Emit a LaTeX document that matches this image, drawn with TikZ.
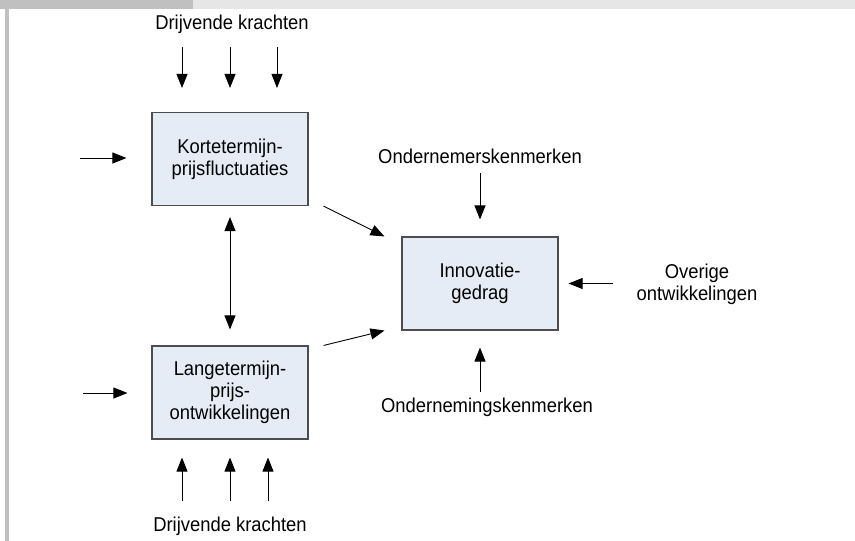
\documentclass[tikz,border=0pt]{standalone}
\usepackage{fontspec}
\setmainfont[FakeStretch=0.92]{Liberation Sans}
\usepackage{xcolor}
\definecolor{boxbg}{HTML}{E6ECF6}
\definecolor{boxbd}{HTML}{4D4D4D}
\definecolor{bardark}{HTML}{C0C0C0}
\definecolor{barlight}{HTML}{E6E6E6}
\usetikzlibrary{arrows.meta, positioning, calc}

\begin{document}
\begin{tikzpicture}[
        x=1pt, y=-1pt,
        every node/.style={font=\fontsize{20}{22}\selectfont},
        box/.style={
            rectangle,
            draw=boxbd,
            line width=1.1pt,
            fill=boxbg,
            minimum width=156pt,
            minimum height=93pt,
            align=center
        },
        lbl/.style={inner sep=0pt, align=center},
        arrow/.style={
            -{Triangle[length=14pt, width=11pt]},
            line width=0.9pt
        },
        dblarrow/.style={
            {Triangle[length=14pt, width=11pt]}-{Triangle[length=14pt, width=11pt]},
            line width=0.9pt
        }
    ]

    % Frame
    \useasboundingbox (0,0) rectangle (855,541);
    \fill[bardark] (0,0) rectangle (193,9);
    \fill[barlight] (193,0) rectangle (855,9);
    \fill[bardark] (5,0) rectangle (9,541);

    % Nodes
    \node[box] (kort) at (230,159) {Kortetermijn-\\prijsfluctuaties};
    \node[box] (lang) at (230,392.5) {Langetermijn-\\prijs-\\ontwikkelingen};
    \node[box] (innov) at (480,283.5) {Innovatie-\\gedrag};

    \node[lbl, anchor=base] (dktop) at (232,29) {Drijvende krachten};
    \node[lbl, anchor=base] (dkbot) at (230,531) {Drijvende krachten};
    \node[lbl, anchor=base] (onmr) at (480,163) {Ondernemerskenmerken};
    \node[lbl, anchor=base] (onmg) at (487,412) {Ondernemingskenmerken};
    \node[lbl] (overig) at (697,284) {Overige\\ontwikkelingen};

    \coordinate (inkort) at (80,158);
    \coordinate (inlang) at (83,393);

    % Arrows
    \draw[arrow, shorten <=14pt, shorten >=24pt] ([xshift=-48pt]kort.north |- dktop.south) -- ([xshift=-48pt]kort.north);
    \draw[arrow, shorten <=14pt, shorten >=24pt] (kort.north |- dktop.south) -- (kort.north);
    \draw[arrow, shorten <=14pt, shorten >=24pt] ([xshift=47pt]kort.north |- dktop.south) -- ([xshift=47pt]kort.north);

    \draw[arrow, shorten <=15pt, shorten >=18pt] ([xshift=-48pt]lang.south |- dkbot.north) -- ([xshift=-48pt]lang.south);
    \draw[arrow, shorten <=15pt, shorten >=18pt] (lang.south |- dkbot.north) -- (lang.south);
    \draw[arrow, shorten <=15pt, shorten >=18pt] ([xshift=38pt]lang.south |- dkbot.north) -- ([xshift=38pt]lang.south);

    \draw[arrow, shorten >=25pt] (inkort) -- (inkort -| kort.west);
    \draw[arrow, shorten >=24pt] (inlang) -- (inlang -| lang.west);

    \draw[dblarrow, shorten <=11pt, shorten >=16pt] (kort.south) -- (lang.north);

    \draw[arrow] ([xshift=15pt]kort.south east) -- ([xshift=-17pt]innov.north west);
    \draw[arrow] ([xshift=15pt]lang.north east) -- ([xshift=-17pt]innov.south west);

    \draw[arrow, shorten <=10pt, shorten >=17pt] (onmr.south) -- (innov.north);
    \draw[arrow, shorten <=5pt, shorten >=17pt] (innov.south |- onmg.north) -- (innov.south);
    \draw[arrow, shorten <=23pt, shorten >=10pt] (overig.west |- innov.east) -- (innov.east);

\end{tikzpicture}
\end{document}
